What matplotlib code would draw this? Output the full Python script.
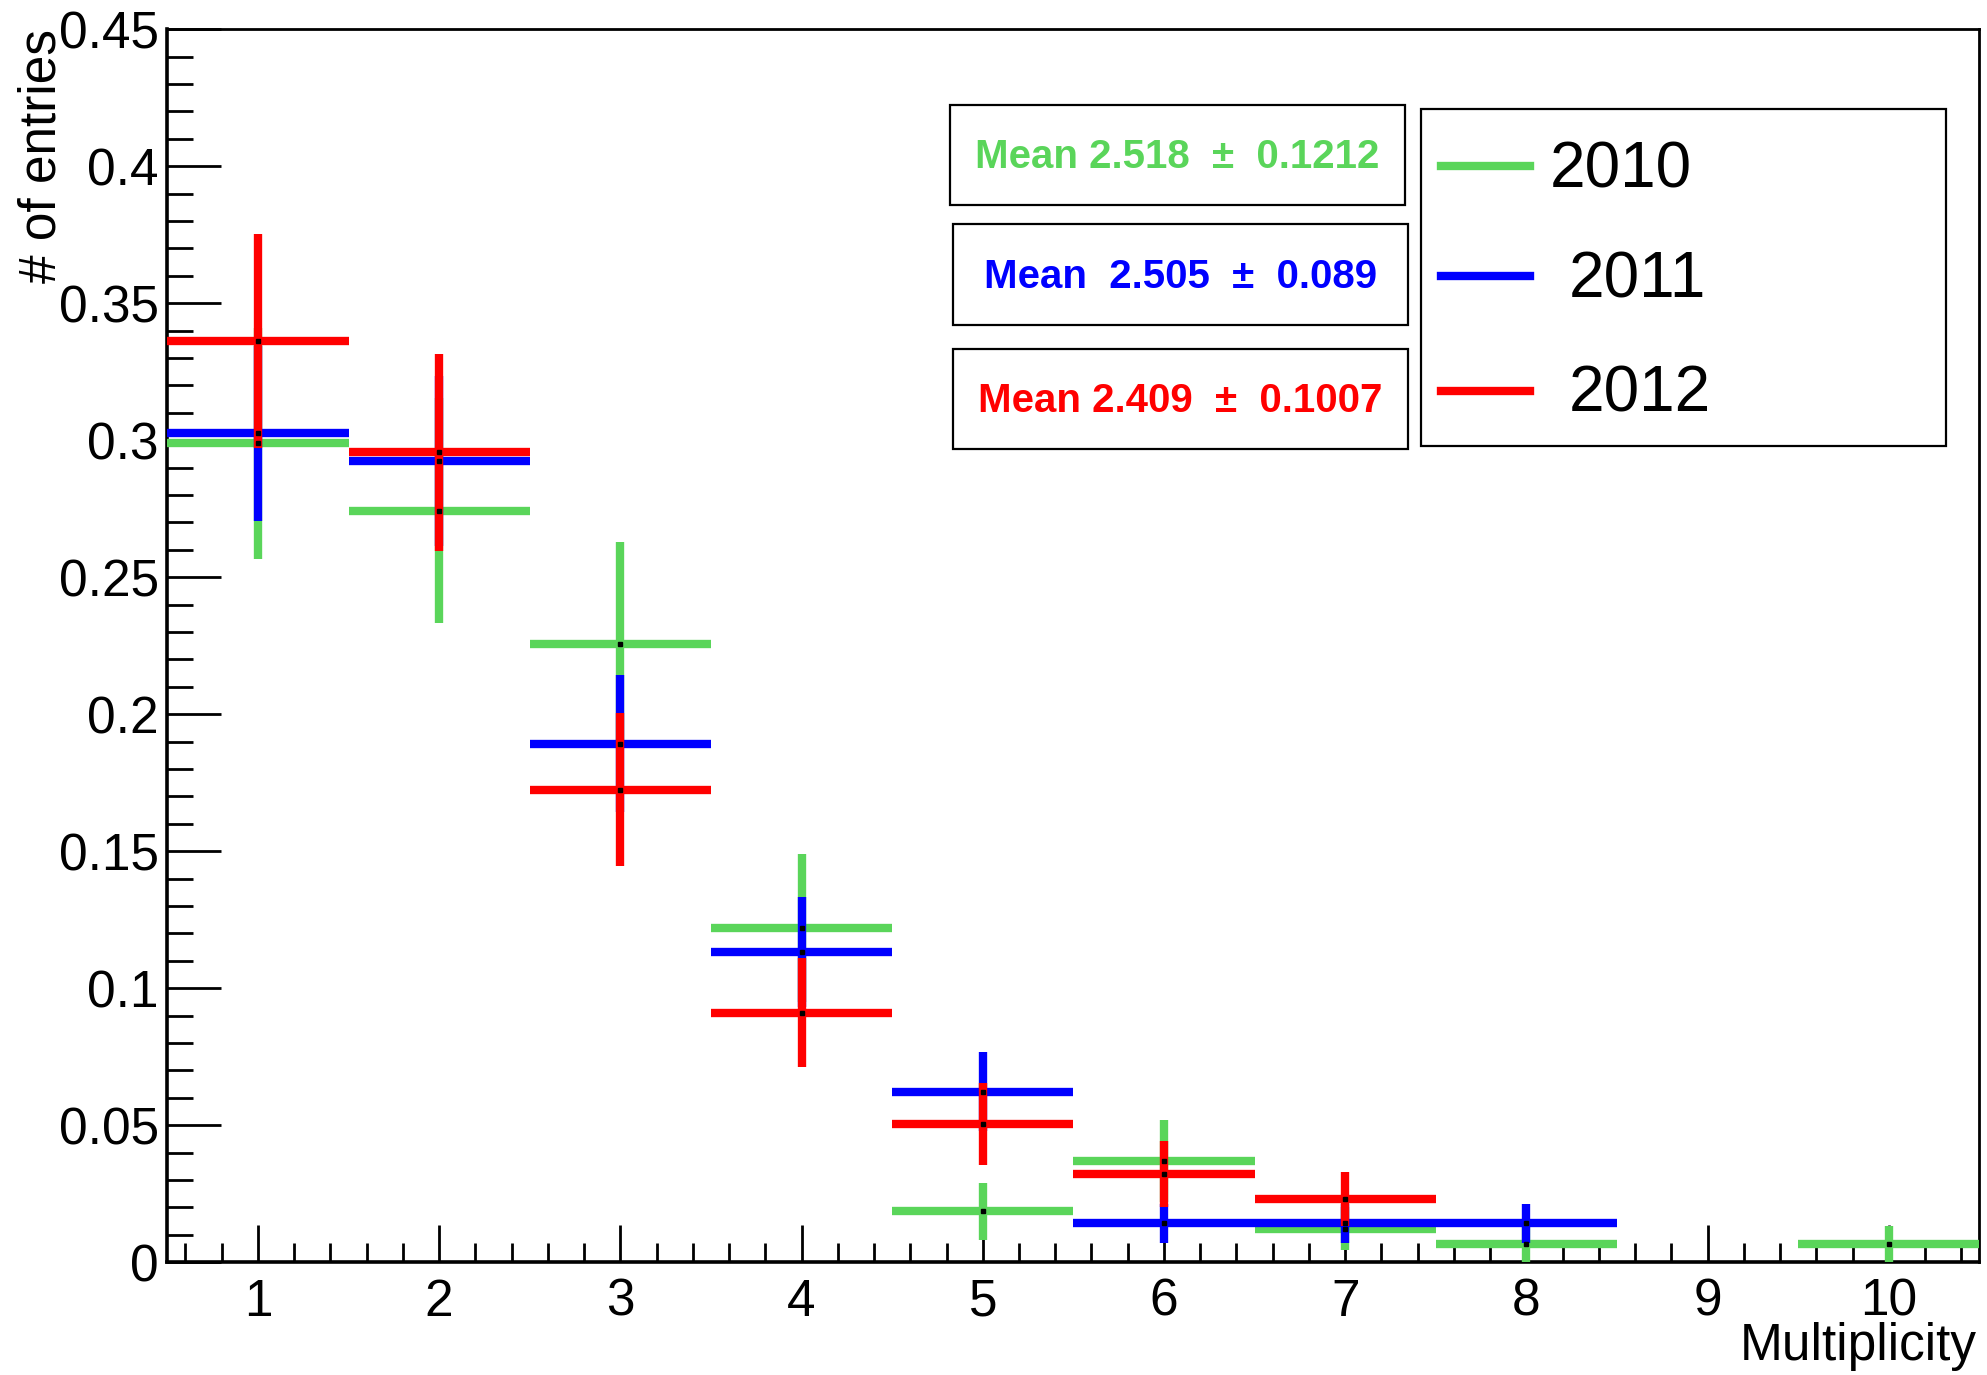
import numpy as np
import matplotlib
matplotlib.use("Agg")
import matplotlib.pyplot as plt
from matplotlib.ticker import MultipleLocator
from matplotlib.patches import Rectangle
from matplotlib.lines import Line2D

plt.rcParams['font.family'] = ['Liberation Sans', 'DejaVu Sans']

# multiplicity bins and normalised entries per year
mult = [1, 2, 3, 4, 5, 6, 7, 8, 9, 10]
y2010 = [0.2988, 0.2743, 0.2257, 0.1221, 0.0186, 0.0370, 0.0123, 0.0066, 0.0, 0.0066]
e2010 = [0.042, 0.041, 0.037, 0.027, 0.0105, 0.015, 0.008, 0.0066, 0.0, 0.0066]
y2011 = [0.3025, 0.2923, 0.1892, 0.1133, 0.0623, 0.0142, 0.0142, 0.0142, 0.0, 0.0]
e2011 = [0.032, 0.031, 0.025, 0.020, 0.0145, 0.007, 0.007, 0.007, 0.0, 0.0]
y2012 = [0.3363, 0.2956, 0.1725, 0.0911, 0.0504, 0.0321, 0.0231, 0.0, 0.0, 0.0]
e2012 = [0.039, 0.036, 0.028, 0.020, 0.015, 0.012, 0.010, 0.0, 0.0, 0.0]

years = ['2010', '2011', '2012']
colors = ['#5AD55A', '#0000FF', '#FF0000']
stats = ['Mean 2.518  \u00b1  0.1212', 'Mean  2.505  \u00b1  0.089', 'Mean 2.409  \u00b1  0.1007']
yticks = [0, 0.05, 0.1, 0.15, 0.2, 0.25, 0.3, 0.35, 0.4, 0.45]
ytick_labels = ['0', '0.05', '0.1', '0.15', '0.2', '0.25', '0.3', '0.35', '0.4', '0.45']

fig = plt.figure(figsize=(19.87, 13.75), dpi=100)
ax = fig.add_axes([0.0842, 0.082, 0.912, 0.8968])

for vals, errs, c in zip([y2010, y2011, y2012], [e2010, e2011, e2012], colors):
    x = np.array(mult, dtype=float)
    v = np.array(vals)
    e = np.array(errs)
    m = v > 0  # empty bins are not drawn
    ax.errorbar(x[m], v[m], xerr=0.5, yerr=e[m], fmt='s', ms=2.5, mfc='black', mec='black',
                ecolor=c, elinewidth=6, capsize=0, zorder=3)

ax.set_xlim(0.5, 10.5)
ax.set_ylim(0, 0.45)
ax.xaxis.set_major_locator(MultipleLocator(1))
ax.xaxis.set_minor_locator(MultipleLocator(0.2))
ax.yaxis.set_minor_locator(MultipleLocator(0.01))
ax.set_yticks(yticks)
ax.set_yticklabels(ytick_labels)
ax.tick_params(which='both', direction='in', top=False, right=False, width=2, labelsize=37)
ax.tick_params(axis='y', which='major', length=39, pad=6)
ax.tick_params(axis='y', which='minor', length=19)
ax.tick_params(axis='x', which='major', length=27, pad=11)
ax.tick_params(axis='x', which='minor', length=14)
for s in ['left', 'bottom']:
    ax.spines[s].set_linewidth(2.6)
for s in ['top', 'right']:
    ax.spines[s].set_linewidth(2)

fig.text(0.021, 0.979, '# of entries', rotation=90, ha='center', va='top', fontsize=37)
fig.text(0.995, 0.021, 'Multiplicity', ha='right', va='center', fontsize=37)

# stat boxes
boxes = [(0.478, 0.8507, 0.229, 0.0728), (0.4796, 0.764, 0.2289, 0.0729), (0.4796, 0.6737, 0.2289, 0.0728)]
text_y = [0.8855, 0.7985, 0.7085]
for (bx, by, bw, bh), ty, txt, c in zip(boxes, text_y, stats, colors):
    fig.add_artist(Rectangle((bx, by), bw, bh, transform=fig.transFigure, fill=False,
                             lw=1.6, ec='black', zorder=5))
    fig.text(bx + bw / 2, ty, txt, ha='center', va='center', color=c,
             fontsize=29, fontweight='bold')

# legend
fig.add_artist(Rectangle((0.715, 0.6756), 0.2646, 0.2451, transform=fig.transFigure, fill=False,
                         lw=1.6, ec='black', zorder=5))
leg_y = [0.879, 0.799, 0.716]
leg_tx = [0.780, 0.7895, 0.7895]
for yy, tx, lab, c in zip(leg_y, leg_tx, years, colors):
    fig.add_artist(Line2D([0.725, 0.770], [yy, yy], transform=fig.transFigure, color=c, lw=6))
    fig.text(tx, yy - 0.003, lab, ha='left', va='center', fontsize=46)

fig.savefig('out.png', dpi=100)
